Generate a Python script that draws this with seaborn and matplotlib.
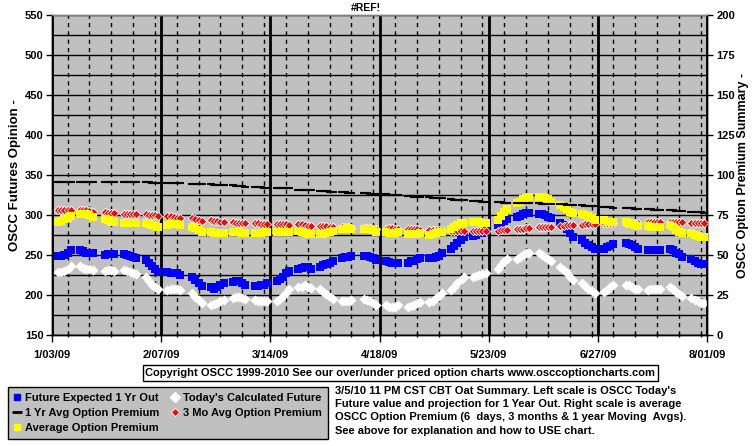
import matplotlib
matplotlib.use("Agg")
import matplotlib.pyplot as plt
import matplotlib.dates as mdates
from matplotlib.lines import Line2D
from matplotlib.ticker import FixedLocator, FixedFormatter, MultipleLocator
import seaborn as sns
import pandas as pd
import numpy as np

# ---------------- data ----------------
START = "2009-01-05"
END = "2009-07-31"
HOLIDAYS = ["2009-01-19", "2009-02-16", "2009-04-10", "2009-05-25", "2009-07-03"]

XTICK_DATES = ["2009-01-03", "2009-02-07", "2009-03-14", "2009-04-18",
               "2009-05-23", "2009-06-27", "2009-08-01"]
XTICK_LABELS = ["1/03/09", "2/07/09", "3/14/09", "4/18/09", "5/23/09", "6/27/09", "8/01/09"]

# Future Expected 1 Yr Out (left scale)
future_1yr = [
    249, 249, 250, 253, 256,  256, 255, 253, 252, 252,  250, 251, 251, 251,
    251, 250, 249, 247, 246,  244, 240, 236, 233, 229,  229, 228, 228, 227, 225,
    223, 219, 215, 211,  210, 208, 210, 212, 215,  216, 217, 217, 215, 213,
    211, 211, 212, 213, 215,  217, 220, 223, 227, 230,  233, 234, 235, 235, 233,
    235, 237, 239, 240, 243,  246, 247, 248, 249,  249, 249, 247, 246, 244,
    243, 241, 240, 240, 240,  240, 242, 243, 245, 246,  246, 246, 247, 249, 252,
    258, 261, 265, 269, 272,  274, 275, 277, 278, 280,  288, 290, 293, 295,
    297, 299, 301, 302, 302,  301, 301, 300, 298, 296,  290, 288, 282, 277, 273,
    269, 265, 263, 260, 258,  258, 260, 261, 264,  265, 264, 263, 260, 258,
    256, 256, 256, 256, 256,  258, 256, 253, 251, 248,  245, 242, 240, 239, 239,
]

# Today's Calculated Future (left scale)
todays_future = [
    229, 229, 230, 233, 236,  236, 234, 233, 232, 231,  230, 231, 231, 230,
    231, 230, 229, 227, 226,  222, 218, 213, 210, 207,  206, 207, 208, 207, 206,
    203, 198, 194, 190,  188, 189, 190, 192, 194,  196, 197, 197, 196, 195,
    194, 193, 192, 193, 192,  192, 195, 199, 203, 207,  210, 210, 212, 210, 209,
    208, 204, 201, 198, 195,  192, 192, 192, 194,  195, 194, 192, 190, 188,
    187, 185, 185, 185, 187,  185, 186, 188, 190, 191,  191, 192, 196, 199, 202,
    206, 210, 215, 219, 222,  223, 224, 225, 226, 228,  233, 237, 242, 245,
    245, 247, 250, 252, 252,  252, 250, 247, 245, 242,  235, 231, 227, 223, 219,
    215, 211, 208, 205, 203,  204, 206, 210, 212,  212, 212, 210, 208, 207,
    206, 207, 207, 207, 208,  210, 207, 204, 201, 199,  196, 194, 192, 190, 190,
]

# 1 Yr Avg Option Premium (right scale)
avg_1yr = [
    95.6, 95.6, 95.6, 95.6, 95.6,  95.6, 95.6, 95.6, 95.6, 95.6,  95.6, 95.6, 95.6, 95.6,
    95.6, 95.6, 95.6, 95.6, 95.6,  95.6, 95.6, 95.0, 95.0, 95.0,  95.2, 95.2, 95.2, 95.2, 95.2,
    94.6, 94.6, 94.6, 94.6,  94.1, 94.0, 93.8, 93.8, 93.8,  93.5, 93.3, 93.1, 92.9, 92.7,
    92.7, 92.5, 92.3, 92.1, 92.1,  91.7, 91.7, 91.7, 91.7, 91.7,  90.8, 90.8, 90.6, 90.6, 90.6,
    90.2, 90.0, 89.8, 89.6, 89.6,  89.6, 89.4, 89.0, 89.0,  88.5, 88.5, 88.3, 88.3, 88.1,
    87.9, 87.7, 87.5, 87.5, 87.3,  86.9, 86.7, 86.5, 86.5, 86.3,  86.0, 85.8, 85.6, 85.4, 85.4,
    84.8, 84.6, 84.4, 84.4, 84.2,  84.0, 83.8, 83.5, 83.3, 83.1,  83.1, 82.9, 82.7, 82.7,
    82.7, 82.5, 82.5, 82.3, 82.3,  82.3, 82.1, 82.1, 81.9, 81.9,  81.7, 81.7, 81.5, 81.5, 81.5,
    81.0, 80.8, 80.8, 80.6, 80.6,  80.2, 80.0, 79.8, 79.6,  79.4, 79.4, 79.2, 79.0, 79.0,
    78.8, 78.5, 78.3, 78.3, 78.1,  78.1, 77.9, 77.7, 77.5, 77.3,  77.1, 76.9, 76.7, 76.7, 76.5,
]

# 3 Mo Avg Option Premium (right scale)
avg_3mo = [
    78.0, 78.0, 78.0, 78.0, 78.0,  78.0, 78.0, 78.0, 77.5, 77.0,  76.7, 76.5, 76.2, 76.0,
    75.8, 75.6, 75.4, 75.4, 75.4,  75.4, 75.2, 75.0, 74.8, 74.4,  74.6, 74.2, 73.8, 73.3, 72.9,
    72.9, 72.3, 71.9, 71.5,  71.9, 71.5, 71.2, 70.8, 70.8,  70.4, 70.2, 70.2, 69.8, 69.8,
    69.8, 69.8, 69.4, 69.2, 69.2,  69.4, 69.6, 69.6, 69.4, 68.8,  69.2, 69.2, 68.8, 68.3, 68.1,
    68.3, 68.1, 68.1, 67.7, 67.7,  67.7, 67.5, 67.3, 67.1,  66.9, 66.9, 66.7, 66.5, 66.3,
    66.3, 66.7, 66.7, 66.5, 66.0,  66.2, 66.2, 66.0, 66.0, 65.8,  65.6, 65.6, 65.4, 65.4, 65.6,
    65.0, 65.0, 65.0, 64.8, 64.8,  65.0, 65.0, 65.0, 65.0, 65.0,  65.2, 65.6, 65.6, 65.6,
    66.0, 66.2, 66.5, 66.7, 66.7,  67.3, 67.3, 67.5, 67.7, 67.7,  68.1, 68.3, 68.5, 68.7, 68.7,
    69.0, 69.2, 69.2, 69.4, 69.4,  69.8, 69.8, 69.8, 69.8,  70.2, 70.2, 70.2, 70.2, 70.2,
    70.4, 70.4, 70.4, 70.4, 70.4,  70.4, 70.4, 70.4, 70.4, 70.4,  70.2, 70.2, 70.2, 70.2, 70.2,
]

# Average Option Premium (right scale)
avg_premium = [
    70.6, 71.2, 72.3, 73.3, 74.6,  75.4, 75.4, 75.4, 74.8, 73.8,  72.7, 71.9, 70.8, 70.4,
    69.8, 69.8, 70.2, 70.2, 70.2,  69.8, 69.4, 68.8, 68.3, 67.7,  68.5, 69.2, 69.4, 69.2, 68.8,
    67.7, 66.7, 65.4, 64.2,  64.6, 64.0, 63.5, 63.5, 64.0,  64.6, 64.6, 64.2, 63.5, 63.5,
    64.0, 64.0, 64.0, 64.4, 64.4,  64.6, 64.6, 64.6, 64.6, 64.6,  65.2, 64.6, 63.5, 62.9, 62.9,
    63.1, 63.1, 64.0, 64.6, 65.2,  66.0, 66.4, 66.7, 66.4,  66.4, 66.4, 66.2, 65.6, 64.6,
    64.6, 63.5, 63.5, 63.5, 64.4,  63.1, 63.1, 63.1, 63.1, 63.5,  62.5, 63.1, 63.5, 64.2, 64.6,
    66.0, 67.3, 68.8, 69.8, 70.2,  70.8, 70.8, 70.4, 70.2, 70.2,  71.9, 74.4, 76.7, 78.5,
    82.3, 83.3, 84.8, 85.8, 86.5,  86.5, 86.0, 85.4, 84.8, 83.3,  81.2, 79.8, 78.5, 77.1, 76.0,
    75.4, 75.0, 74.4, 72.9, 71.9,  71.9, 70.8, 70.4, 70.4,  70.4, 69.8, 69.4, 68.8, 68.3,
    68.1, 67.7, 67.7, 67.3, 67.3,  68.8, 67.3, 65.6, 64.6, 63.5,  63.5, 62.5, 61.9, 61.5, 61.5,
]

LABELS = ["Future Expected 1 Yr Out", "1 Yr Avg Option Premium", "Average Option Premium",
          "Today's Calculated Future", "3 Mo Avg Option Premium"]

TITLE = "#REF!"
COPYRIGHT = "Copyright OSCC 1999-2010 See our over/under priced option charts www.osccoptioncharts.com"
NOTE = ("3/5/10 11 PM CST CBT Oat Summary. Left scale is OSCC Today's\n"
        "Future value and projection for 1 Year Out. Right scale is average\n"
        "OSCC Option Premium (6  days, 3 months & 1 year Moving  Avgs).\n"
        "See above for explanation and how to USE chart.")

# ---------------- build ----------------
dates = pd.bdate_range(START, END)
dates = dates[~dates.isin(pd.to_datetime(HOLIDAYS))]
df = pd.DataFrame({"date": dates, "f1": future_1yr, "tf": todays_future,
                   "a1": avg_1yr, "a3": avg_3mo, "ap": avg_premium})

plt.rcParams["font.family"] = ["Liberation Sans", "DejaVu Sans"]
plt.rcParams["font.weight"] = "bold"

W, H = 755, 446
fig = plt.figure(figsize=(W / 100, H / 100), dpi=100)
fig.patch.set_facecolor("white")
L, R, T, B = 52, 707, 15, 335
ax = fig.add_axes([L / W, 1 - B / H, (R - L) / W, (B - T) / H])
ax.set_facecolor("#C0C0C0")
ax2 = ax.twinx()

BLUE = "#0000FF"
YELLOW = "#FFFF00"
RED = "#FF0000"

sns.scatterplot(data=df, x="date", y="tf", ax=ax, marker="D", s=26, color="white",
                linewidth=0, zorder=3, legend=False)
sns.scatterplot(data=df, x="date", y="f1", ax=ax, marker="s", s=26, color=BLUE,
                linewidth=0, zorder=3, legend=False)

sns.scatterplot(data=df, x="date", y="a3", ax=ax2, marker="D", s=18, color=RED,
                edgecolor="white", linewidth=0.6, zorder=3, legend=False)
sns.scatterplot(data=df, x="date", y="ap", ax=ax2, marker="s", s=26, color=YELLOW,
                linewidth=0, zorder=3, legend=False)
sns.scatterplot(data=df, x="date", y="a1", ax=ax2, marker="_", s=26, color="black",
                linewidth=1.5, zorder=3, legend=False)

# axes limits
xt = [mdates.date2num(pd.Timestamp(d)) for d in XTICK_DATES]
ax.set_xlim(xt[0], xt[-1])
ax.set_ylim(150, 550)
ax2.set_ylim(0, 200)

ax.xaxis.set_major_locator(FixedLocator(xt))
ax.xaxis.set_major_formatter(FixedFormatter(XTICK_LABELS))
ax.xaxis.set_minor_locator(MultipleLocator(7))
ax.yaxis.set_major_locator(MultipleLocator(50))
ax.yaxis.set_minor_locator(MultipleLocator(25))
ax2.yaxis.set_major_locator(MultipleLocator(25))

ax.set_axisbelow(True)
ax.grid(which="both", axis="y", color="black", lw=1)
ax.grid(which="major", axis="x", color="black", lw=2)
ax.grid(which="minor", axis="x", color="black", lw=1, ls=(0, (3, 3)))

ax.tick_params(axis="y", which="major", length=4, width=1, labelsize=8, pad=2)
ax.tick_params(axis="y", which="minor", length=0)
ax.tick_params(axis="x", which="major", length=5, width=1, labelsize=8, pad=6)
ax.tick_params(axis="x", which="minor", length=3, width=1, direction="inout")
ax2.tick_params(axis="y", which="major", length=4, width=1, labelsize=8, pad=3)
for a in (ax, ax2):
    for lab in a.get_xticklabels() + a.get_yticklabels():
        lab.set_fontweight("bold")
    for s in a.spines.values():
        s.set_color("black")
        s.set_linewidth(1)
    a.spines["top"].set_color("#808080")

ax.set_xlabel("")
ax.set_ylabel("OSCC Futures Opinion -", fontsize=9.5, fontweight="bold", labelpad=3)
ax2.set_ylabel("OSCC Option Premium Summary -", fontsize=9, fontweight="bold",
               rotation=90, labelpad=1)

fig.text(366 / W, 1 - 13 / H, TITLE, ha="center", va="bottom", fontsize=7.5,
         fontweight="bold")

fig.text(400.5 / W, 1 - 373 / H, COPYRIGHT, ha="center", va="center", fontsize=8,
         fontweight="bold",
         bbox=dict(boxstyle="square,pad=0.25", fc="white", ec="black", lw=1))

handles = [
    Line2D([], [], ls="none", marker="s", ms=5, mfc=BLUE, mec=BLUE),
    Line2D([], [], ls="none", marker="_", ms=7, mew=2, color="black"),
    Line2D([], [], ls="none", marker="s", ms=5, mfc=YELLOW, mec=YELLOW),
    Line2D([], [], ls="none", marker="D", ms=5, mfc="white", mec="white"),
    Line2D([], [], ls="none", marker="D", ms=4.5, mfc=RED, mec="white", mew=0.6),
]
leg = fig.legend(handles, LABELS, loc="upper left", bbox_to_anchor=(8 / W, 1 - 387 / H),
                 ncol=2, frameon=True, fancybox=False, edgecolor="black",
                 facecolor="#C0C0C0", framealpha=1,
                 prop={"weight": "bold", "size": 8}, handlelength=0.6,
                 handletextpad=0.4, columnspacing=1.1, labelspacing=0.45,
                 borderpad=0.55, borderaxespad=0)
leg.get_frame().set_linewidth(1)

fig.text(335 / W, 1 - 385.5 / H, NOTE, ha="left", va="top", fontsize=8,
         fontweight="bold", linespacing=1.43)

fig.savefig("out.png", dpi=100)
